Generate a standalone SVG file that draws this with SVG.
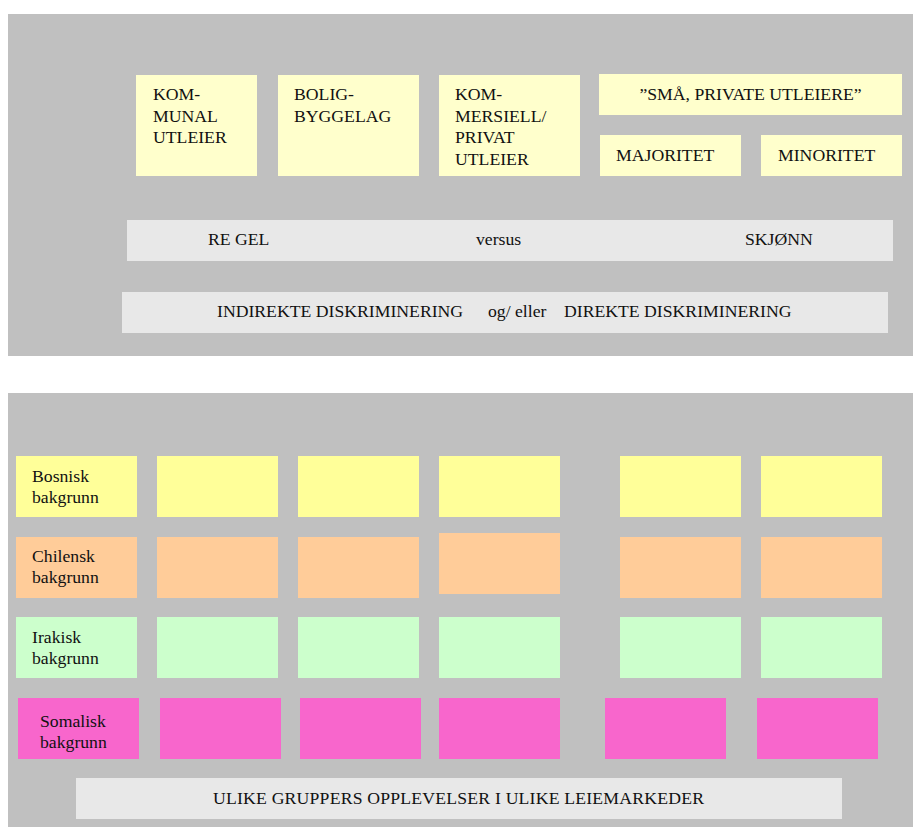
<svg xmlns="http://www.w3.org/2000/svg" width="913" height="827" viewBox="0 0 913 827" font-family="'Liberation Serif', 'Times New Roman', 'DejaVu Serif', serif">
<style>
text{font-family:'Liberation Serif','Times New Roman','DejaVu Serif',serif;font-size:17.7px;fill:#111}
.panel{fill:#C0C0C0}
.bar{fill:#E8E8E8}
.ly{fill:#FFFFCC}
.y{fill:#FFFF99}
.o{fill:#FFCC99}
.g{fill:#CCFFCC}
.p{fill:#F866CC}
</style>
<rect width="913" height="827" fill="#FFFFFF"/>
<g id="top-panel">
<rect class="panel" x="8" y="14" width="905" height="342"/>
</g>
<g id="kommunal">
<rect class="ly" x="136" y="75" width="121" height="101"/>
<text x="153" y="100">KOM-</text>
<text x="153" y="122">MUNAL</text>
<text x="153" y="143">UTLEIER</text>
</g>
<g id="boligbyggelag">
<rect class="ly" x="278" y="75" width="141" height="101"/>
<text x="294" y="100">BOLIG-</text>
<text x="294" y="122">BYGGELAG</text>
</g>
<g id="kommersiell">
<rect class="ly" x="439" y="75" width="141" height="101"/>
<text x="455" y="100">KOM-</text>
<text x="455" y="122">MERSIELL/</text>
<text x="455" y="143">PRIVAT</text>
<text x="455" y="165">UTLEIER</text>
</g>
<g id="sma-private">
<rect class="ly" x="599" y="74" width="303" height="41"/>
<text x="750.5" y="100" text-anchor="middle">”SMÅ, PRIVATE UTLEIERE”</text>
</g>
<g id="majoritet">
<rect class="ly" x="600" y="135" width="141" height="41"/>
<text x="616" y="161">MAJORITET</text>
</g>
<g id="minoritet">
<rect class="ly" x="761" y="135" width="141" height="41"/>
<text x="778" y="161">MINORITET</text>
</g>
<g id="regel-skjonn">
<rect class="bar" x="127" y="220" width="766" height="41"/>
<text x="208" y="245">RE GEL</text>
<text x="476" y="245">versus</text>
<text x="745" y="245">SKJØNN</text>
</g>
<g id="diskriminering">
<rect class="bar" x="122" y="292" width="766" height="41"/>
<text x="217" y="317">INDIREKTE DISKRIMINERING</text>
<text x="488" y="317">og/ eller</text>
<text x="564" y="317">DIREKTE DISKRIMINERING</text>
</g>
<g id="bottom-panel">
<rect class="panel" x="8" y="393" width="905" height="434"/>
</g>
<g id="bosnisk">
<rect class="y" x="16" y="456" width="121" height="61"/>
<text x="32" y="482">Bosnisk</text>
<text x="32" y="503">bakgrunn</text>
<rect class="y" x="157" y="456" width="121" height="61"/>
<rect class="y" x="298" y="456" width="121" height="61"/>
<rect class="y" x="439" y="456" width="121" height="61"/>
<rect class="y" x="620" y="456" width="121" height="61"/>
<rect class="y" x="761" y="456" width="121" height="61"/>
</g>
<g id="chilensk">
<rect class="o" x="16" y="537" width="121" height="61"/>
<text x="32" y="562">Chilensk</text>
<text x="32" y="583">bakgrunn</text>
<rect class="o" x="157" y="537" width="121" height="61"/>
<rect class="o" x="298" y="537" width="121" height="61"/>
<rect class="o" x="439" y="533" width="121" height="61"/>
<rect class="o" x="620" y="537" width="121" height="61"/>
<rect class="o" x="761" y="537" width="121" height="61"/>
</g>
<g id="irakisk">
<rect class="g" x="16" y="617" width="121" height="61"/>
<text x="32" y="643">Irakisk</text>
<text x="32" y="664">bakgrunn</text>
<rect class="g" x="157" y="617" width="121" height="61"/>
<rect class="g" x="298" y="617" width="121" height="61"/>
<rect class="g" x="439" y="617" width="121" height="61"/>
<rect class="g" x="620" y="617" width="121" height="61"/>
<rect class="g" x="761" y="617" width="121" height="61"/>
</g>
<g id="somalisk">
<rect class="p" x="18" y="698" width="121" height="61"/>
<text x="40" y="727">Somalisk</text>
<text x="40" y="748">bakgrunn</text>
<rect class="p" x="160" y="698" width="121" height="61"/>
<rect class="p" x="300" y="698" width="121" height="61"/>
<rect class="p" x="439" y="698" width="121" height="61"/>
<rect class="p" x="605" y="698" width="121" height="61"/>
<rect class="p" x="757" y="698" width="121" height="61"/>
</g>
<g id="ulike-grupper">
<rect class="bar" x="76" y="778" width="766" height="41"/>
<text x="213" y="804" textLength="491" lengthAdjust="spacing">ULIKE GRUPPERS OPPLEVELSER I ULIKE  LEIEMARKEDER</text>
</g>
<g id="connectors"/>
</svg>
